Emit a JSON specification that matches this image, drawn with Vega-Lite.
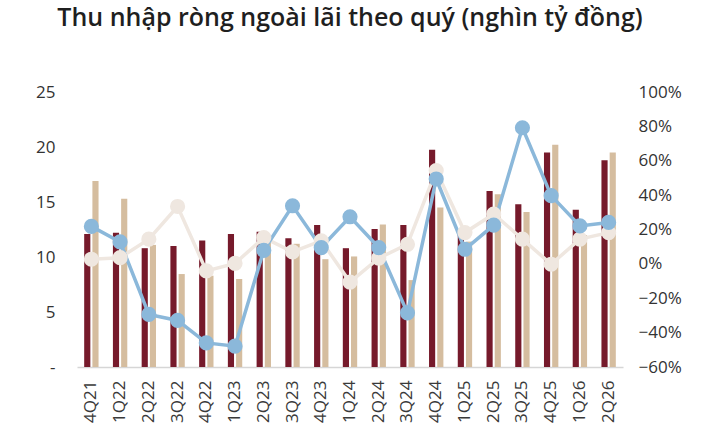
{
  "$schema": "https://vega.github.io/schema/vega-lite/v6.json",
  "width": 546,
  "height": 275,
  "autosize": {"type": "none"},
  "padding": {"left": 77, "top": 92, "right": 85, "bottom": 75},
  "background": "white",
  "title": {
    "text": "Thu nhập ròng ngoài lãi theo quý (nghìn tỷ đồng)",
    "font": "Open Sans",
    "fontSize": 25,
    "fontWeight": 600,
    "color": "#1f1f1f",
    "anchor": "middle",
    "frame": "group",
    "baseline": "top",
    "offset": 52
  },
  "config": {
    "view": {"stroke": null},
    "axis": {"labelFont": "Open Sans", "labelFontSize": 17, "labelColor": "#333333", "grid": false, "ticks": false, "title": null}
  },
  "datasets": {
    "bars": [
      {"q": "4Q21", "s": "A", "v": 12.1}, {"q": "4Q21", "s": "B", "v": 16.9},
      {"q": "1Q22", "s": "A", "v": 12.2}, {"q": "1Q22", "s": "B", "v": 15.3},
      {"q": "2Q22", "s": "A", "v": 10.8}, {"q": "2Q22", "s": "B", "v": 11.1},
      {"q": "3Q22", "s": "A", "v": 11.0}, {"q": "3Q22", "s": "B", "v": 8.45},
      {"q": "4Q22", "s": "A", "v": 11.5}, {"q": "4Q22", "s": "B", "v": 8.3},
      {"q": "1Q23", "s": "A", "v": 12.1}, {"q": "1Q23", "s": "B", "v": 8.0},
      {"q": "2Q23", "s": "A", "v": 12.3}, {"q": "2Q23", "s": "B", "v": 11.6},
      {"q": "3Q23", "s": "A", "v": 11.7}, {"q": "3Q23", "s": "B", "v": 11.2},
      {"q": "4Q23", "s": "A", "v": 12.9}, {"q": "4Q23", "s": "B", "v": 9.8},
      {"q": "1Q24", "s": "A", "v": 10.8}, {"q": "1Q24", "s": "B", "v": 10.05},
      {"q": "2Q24", "s": "A", "v": 12.55}, {"q": "2Q24", "s": "B", "v": 12.95},
      {"q": "3Q24", "s": "A", "v": 12.9}, {"q": "3Q24", "s": "B", "v": 7.9},
      {"q": "4Q24", "s": "A", "v": 19.75}, {"q": "4Q24", "s": "B", "v": 14.5},
      {"q": "1Q25", "s": "A", "v": 12.0}, {"q": "1Q25", "s": "B", "v": 11.4},
      {"q": "2Q25", "s": "A", "v": 16.0}, {"q": "2Q25", "s": "B", "v": 15.7},
      {"q": "3Q25", "s": "A", "v": 14.8}, {"q": "3Q25", "s": "B", "v": 14.1},
      {"q": "4Q25", "s": "A", "v": 19.5}, {"q": "4Q25", "s": "B", "v": 20.2},
      {"q": "1Q26", "s": "A", "v": 14.3}, {"q": "1Q26", "s": "B", "v": 12.0},
      {"q": "2Q26", "s": "A", "v": 18.8}, {"q": "2Q26", "s": "B", "v": 19.5}
    ],
    "growth": [
      {"q": "4Q21", "s": "gB", "g": 0.027}, {"q": "4Q21", "s": "gA", "g": 0.218},
      {"q": "1Q22", "s": "gB", "g": 0.036}, {"q": "1Q22", "s": "gA", "g": 0.128},
      {"q": "2Q22", "s": "gB", "g": 0.144}, {"q": "2Q22", "s": "gA", "g": -0.294},
      {"q": "3Q22", "s": "gB", "g": 0.334}, {"q": "3Q22", "s": "gA", "g": -0.329},
      {"q": "4Q22", "s": "gB", "g": -0.041}, {"q": "4Q22", "s": "gA", "g": -0.46},
      {"q": "1Q23", "s": "gB", "g": 0.003}, {"q": "1Q23", "s": "gA", "g": -0.479},
      {"q": "2Q23", "s": "gB", "g": 0.153}, {"q": "2Q23", "s": "gA", "g": 0.079},
      {"q": "3Q23", "s": "gB", "g": 0.07}, {"q": "3Q23", "s": "gA", "g": 0.338},
      {"q": "4Q23", "s": "gB", "g": 0.134}, {"q": "4Q23", "s": "gA", "g": 0.095},
      {"q": "1Q24", "s": "gB", "g": -0.106}, {"q": "1Q24", "s": "gA", "g": 0.274},
      {"q": "2Q24", "s": "gB", "g": 0.033}, {"q": "2Q24", "s": "gA", "g": 0.095},
      {"q": "3Q24", "s": "gB", "g": 0.114}, {"q": "3Q24", "s": "gA", "g": -0.285},
      {"q": "4Q24", "s": "gB", "g": 0.543}, {"q": "4Q24", "s": "gA", "g": 0.494},
      {"q": "1Q25", "s": "gB", "g": 0.182}, {"q": "1Q25", "s": "gA", "g": 0.085},
      {"q": "2Q25", "s": "gB", "g": 0.29}, {"q": "2Q25", "s": "gA", "g": 0.225},
      {"q": "3Q25", "s": "gB", "g": 0.144}, {"q": "3Q25", "s": "gA", "g": 0.792},
      {"q": "4Q25", "s": "gB", "g": -0.002}, {"q": "4Q25", "s": "gA", "g": 0.397},
      {"q": "1Q26", "s": "gB", "g": 0.144}, {"q": "1Q26", "s": "gA", "g": 0.221},
      {"q": "2Q26", "s": "gB", "g": 0.182}, {"q": "2Q26", "s": "gA", "g": 0.241}
    ]
  },
  "encoding": {
    "x": {
      "field": "q",
      "type": "nominal",
      "sort": null,
      "scale": {"paddingInner": 0.5, "paddingOuter": 0.25},
      "axis": {
        "labelAngle": -90,
        "labelPadding": 13,
        "labelFontSize": 17,
        "labelColor": "#3a3a3a",
        "domainColor": "#d6d6d6",
        "domainWidth": 1.5
      }
    }
  },
  "layer": [
    {
      "data": {"name": "bars"},
      "mark": {"type": "bar"},
      "encoding": {
        "xOffset": {"field": "s", "type": "nominal", "scale": {"paddingInner": 0.25}},
        "y": {
          "field": "v",
          "type": "quantitative",
          "scale": {"domain": [0, 25]},
          "axis": {
            "values": [0, 5, 10, 15, 20, 25],
            "domain": false,
            "labelPadding": 22,
            "labelExpr": "datum.value == 0 ? '-\u00a0\u00a0\u00a0' : datum.label"
          }
        },
        "color": {
          "field": "s",
          "type": "nominal",
          "scale": {"domain": ["A", "B"], "range": ["#761a2b", "#d5bd9f"]},
          "legend": null
        }
      }
    },
    {
      "data": {"name": "growth"},
      "encoding": {
        "y": {
          "field": "g",
          "type": "quantitative",
          "scale": {"domain": [-0.6, 1.0]},
          "axis": {
            "orient": "right",
            "format": ".0%",
            "values": [-0.6, -0.4, -0.2, 0, 0.2, 0.4, 0.6, 0.8, 1.0],
            "domain": false,
            "labelPadding": 15
          }
        },
        "color": {
          "field": "s",
          "type": "nominal",
          "scale": {"domain": ["gB", "gA"], "range": ["#efe7e0", "#8bb8da"]},
          "legend": null
        }
      },
      "layer": [
        {
          "mark": {"type": "line", "strokeWidth": 3.5},
          "encoding": {}
        },
        {
          "mark": {"type": "point", "filled": true, "opacity": 1, "size": 230},
          "encoding": {}
        }
      ]
    }
  ],
  "resolve": {"scale": {"y": "independent", "color": "independent"}}
}
